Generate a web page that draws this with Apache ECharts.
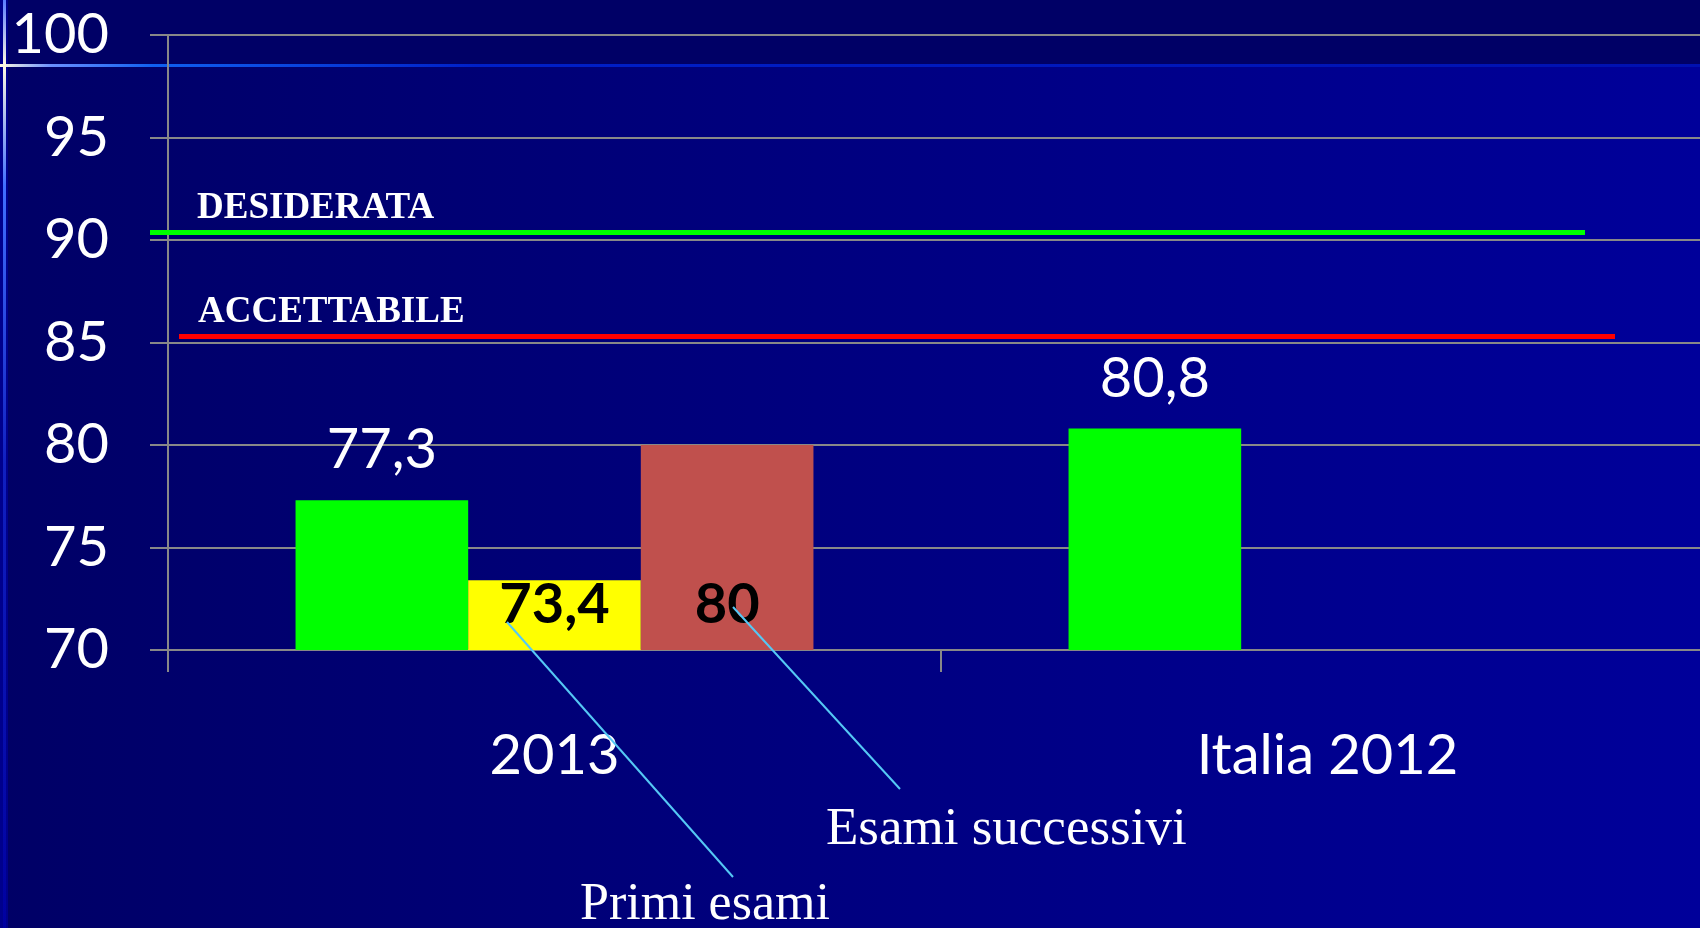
<!DOCTYPE html>
<html>
<head>
<meta charset="utf-8">
<title>Esami</title>
<script src="https://cdn.jsdelivr.net/npm/echarts@6/dist/echarts.min.js"></script>
<style>
  html, body { margin: 0; padding: 0; background: #000066; }
  #chart { width: 1700px; height: 928px; }
</style>
</head>
<body>
<div id="chart"></div>
<script>
const categories = ['2013', 'Italia 2012']
const totale = [77.3, 80.8]
const primiEsami = [73.4, null]
const esamiSuccessivi = [80, null]
const yTicks = [70, 100, 5] // min, max, interval
const desiderata = 90.4
const accettabile = 85.3

const FONT = 'Lato'
const SERIF = 'Liberation Serif'
const GRID_GREY = '#888888'

const chart = echarts.init(document.getElementById('chart'))

const fmt = (p) => String(p.value).replace('.', ',')

const outerLabel = {
  show: true,
  position: 'top',
  distance: 22,
  color: '#ffffff',
  fontFamily: FONT,
  fontSize: 56,
  formatter: fmt,
}

const innerLabel = {
  show: true,
  position: 'insideBottom',
  distance: 17,
  color: '#000000',
  fontFamily: FONT,
  fontWeight: 'bold',
  fontSize: 56,
  formatter: fmt,
}

function thresholdLabel(text, dx) {
  return {
    show: true,
    formatter: text,
    position: 'insideStartTop',
    distance: [dx, 5],
    color: '#ffffff',
    fontFamily: SERIF,
    fontWeight: 'bold',
    fontSize: 37,
  }
}

chart.setOption({
  animation: false,
  backgroundColor: {
    type: 'linear', x: 0, y: 0, x2: 1, y2: 0,
    colorStops: [
      { offset: 0, color: '#000066' },
      { offset: 1, color: '#00009a' },
    ],
  },
  graphic: [
    // slide template decoration
    { type: 'rect', z: -10, silent: true, shape: { x: 0, y: 0, width: 1700, height: 66 }, style: { fill: '#000066' } },
    { type: 'rect', z: -9, silent: true, shape: { x: 0, y: 0, width: 8, height: 928 }, style: { fill: '#00008c' } },
    {
      type: 'rect', z: -8, silent: true,
      shape: { x: 0, y: 64, width: 1700, height: 3 },
      style: {
        fill: {
          type: 'linear', x: 0, y: 0, x2: 1, y2: 0,
          colorStops: [
            { offset: 0, color: '#fffbe0' },
            { offset: 0.03, color: '#6a90ff' },
            { offset: 0.09, color: '#1060f0' },
            { offset: 0.28, color: '#0020c8' },
            { offset: 1, color: '#0010b0' },
          ],
        },
      },
    },
    {
      type: 'rect', z: -8, silent: true,
      shape: { x: 3, y: 0, width: 3, height: 928 },
      style: {
        fill: {
          type: 'linear', x: 0, y: 0, x2: 0, y2: 1,
          colorStops: [
            { offset: 0, color: '#5a7cff' },
            { offset: 0.07, color: '#fffbe0' },
            { offset: 0.2, color: '#4070ff' },
            { offset: 0.5, color: '#1020c0' },
            { offset: 1, color: '#0000a0' },
          ],
        },
      },
    },
    // callouts
    { type: 'line', z: 20, silent: true, shape: { x1: 507, y1: 622, x2: 733, y2: 877 }, style: { stroke: '#55c8f5', lineWidth: 2 } },
    { type: 'line', z: 20, silent: true, shape: { x1: 733, y1: 607, x2: 900, y2: 789 }, style: { stroke: '#55c8f5', lineWidth: 2 } },
    {
      type: 'text', z: 20, silent: true, x: 580, y: 905,
      style: { text: 'Primi esami', fill: '#ffffff', font: '52px "Liberation Serif"', verticalAlign: 'middle' },
    },
    {
      type: 'text', z: 20, silent: true, x: 826, y: 830,
      style: { text: 'Esami successivi', fill: '#ffffff', font: '53px "Liberation Serif"', verticalAlign: 'middle' },
    },
  ],
  grid: { left: 168, top: 35, right: -14, bottom: 278, outerBoundsMode: 'none', containLabel: false },
  xAxis: {
    type: 'category',
    data: categories,
    axisLine: { show: true, lineStyle: { color: GRID_GREY, width: 2 } },
    axisTick: { show: true, length: 22, lineStyle: { color: GRID_GREY, width: 2 } },
    axisLabel: { color: '#ffffff', fontFamily: FONT, fontSize: 56, margin: 78 },
    splitLine: { show: false },
  },
  yAxis: {
    type: 'value',
    min: yTicks[0],
    max: yTicks[1],
    interval: yTicks[2],
    axisLine: { show: true, lineStyle: { color: GRID_GREY, width: 2 } },
    axisTick: { show: true, inside: false, length: 18, lineStyle: { color: GRID_GREY, width: 2 } },
    axisLabel: { color: '#ffffff', fontFamily: FONT, fontSize: 56, margin: 59 },
    splitLine: { show: true, lineStyle: { color: GRID_GREY, width: 2 } },
  },
  series: [
    {
      name: 'Totale',
      type: 'bar',
      data: totale,
      barGap: 0,
      barCategoryGap: '33%',
      itemStyle: { color: '#00ff00' },
      label: outerLabel,
      markLine: {
        silent: true,
        symbol: 'none',
        animation: false,
        data: [
          [
            { yAxis: desiderata, x: 150, lineStyle: { color: '#00ff00', width: 5, type: 'solid' }, label: thresholdLabel('DESIDERATA', 47) },
            { yAxis: desiderata, x: 1585 },
          ],
          [
            { yAxis: accettabile, x: 179, lineStyle: { color: '#ff0000', width: 5, type: 'solid' }, label: thresholdLabel('ACCETTABILE', 19) },
            { yAxis: accettabile, x: 1615 },
          ],
        ],
      },
    },
    {
      name: 'Primi esami',
      type: 'bar',
      data: primiEsami,
      barGap: 0,
      barCategoryGap: '33%',
      itemStyle: { color: '#ffff00' },
      label: innerLabel,
    },
    {
      name: 'Esami successivi',
      type: 'bar',
      data: esamiSuccessivi,
      barGap: 0,
      barCategoryGap: '33%',
      itemStyle: { color: '#c0504d' },
      label: innerLabel,
    },
  ],
})

window.addEventListener('resize', () => chart.resize())
</script>
</body>
</html>
